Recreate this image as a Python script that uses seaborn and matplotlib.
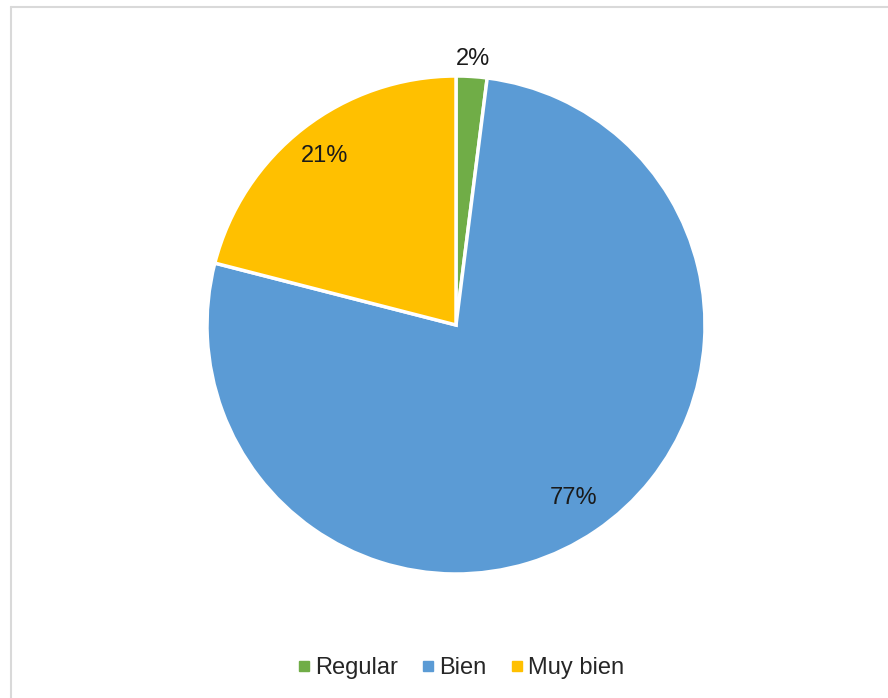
import matplotlib
matplotlib.use("Agg")
import matplotlib.pyplot as plt
from matplotlib.lines import Line2D
import seaborn as sns
import numpy as np

categories = ["Regular", "Bien", "Muy bien"]
values = [2, 77, 21]
labels = ["2%", "77%", "21%"]
colors = ["#70AD47", "#5B9BD5", "#FFC000"]

sns.set_theme(style="white")
plt.rcParams['font.family'] = ['Liberation Sans', 'DejaVu Sans']

fig = plt.figure(figsize=(8.88, 6.98), dpi=100)
W, H = 888, 698
cx, cy, r = 456, 325, 249
ax = fig.add_axes([(cx - r) / W, (H - cy - r) / H, 2 * r / W, 2 * r / H])

wedges, texts = ax.pie(values, colors=colors, startangle=90, counterclock=False,
                       wedgeprops=dict(edgecolor="white", linewidth=2.5),
                       radius=1.0)
ax.set_xlim(-1, 1)
ax.set_ylim(-1, 1)
ax.set_aspect("equal")
ax.axis("off")

pos_r = [1.07, 0.84, 0.86]
start = 90.0
total = sum(values)
for v, lab, rr in zip(values, labels, pos_r):
    ang = start - v / total * 360 / 2
    start -= v / total * 360
    a = np.deg2rad(ang)
    ax.text(rr * np.cos(a), rr * np.sin(a), lab, ha="center", va="center",
            fontsize=17, color="#1a1a1a")

handles = [Line2D([0], [0], marker="s", color="none", markerfacecolor=c,
                  markeredgecolor=c, markersize=7) for c in colors]
fig.legend(handles, categories, loc="center", bbox_to_anchor=(461 / W, 1 - 668 / H),
           ncol=3, frameon=False, fontsize=17, handlelength=0.5, handletextpad=0.2,
           columnspacing=1.05)

# chart frame
fig.add_artist(Line2D([10.5 / W, 10.5 / W], [0, 1 - 7 / H], color="#d9d9d9", lw=1.5,
                      transform=fig.transFigure))
fig.add_artist(Line2D([10.5 / W, 1], [1 - 7 / H, 1 - 7 / H], color="#d9d9d9", lw=1.5,
                      transform=fig.transFigure))

fig.savefig("out.png", dpi=100, facecolor="white")
